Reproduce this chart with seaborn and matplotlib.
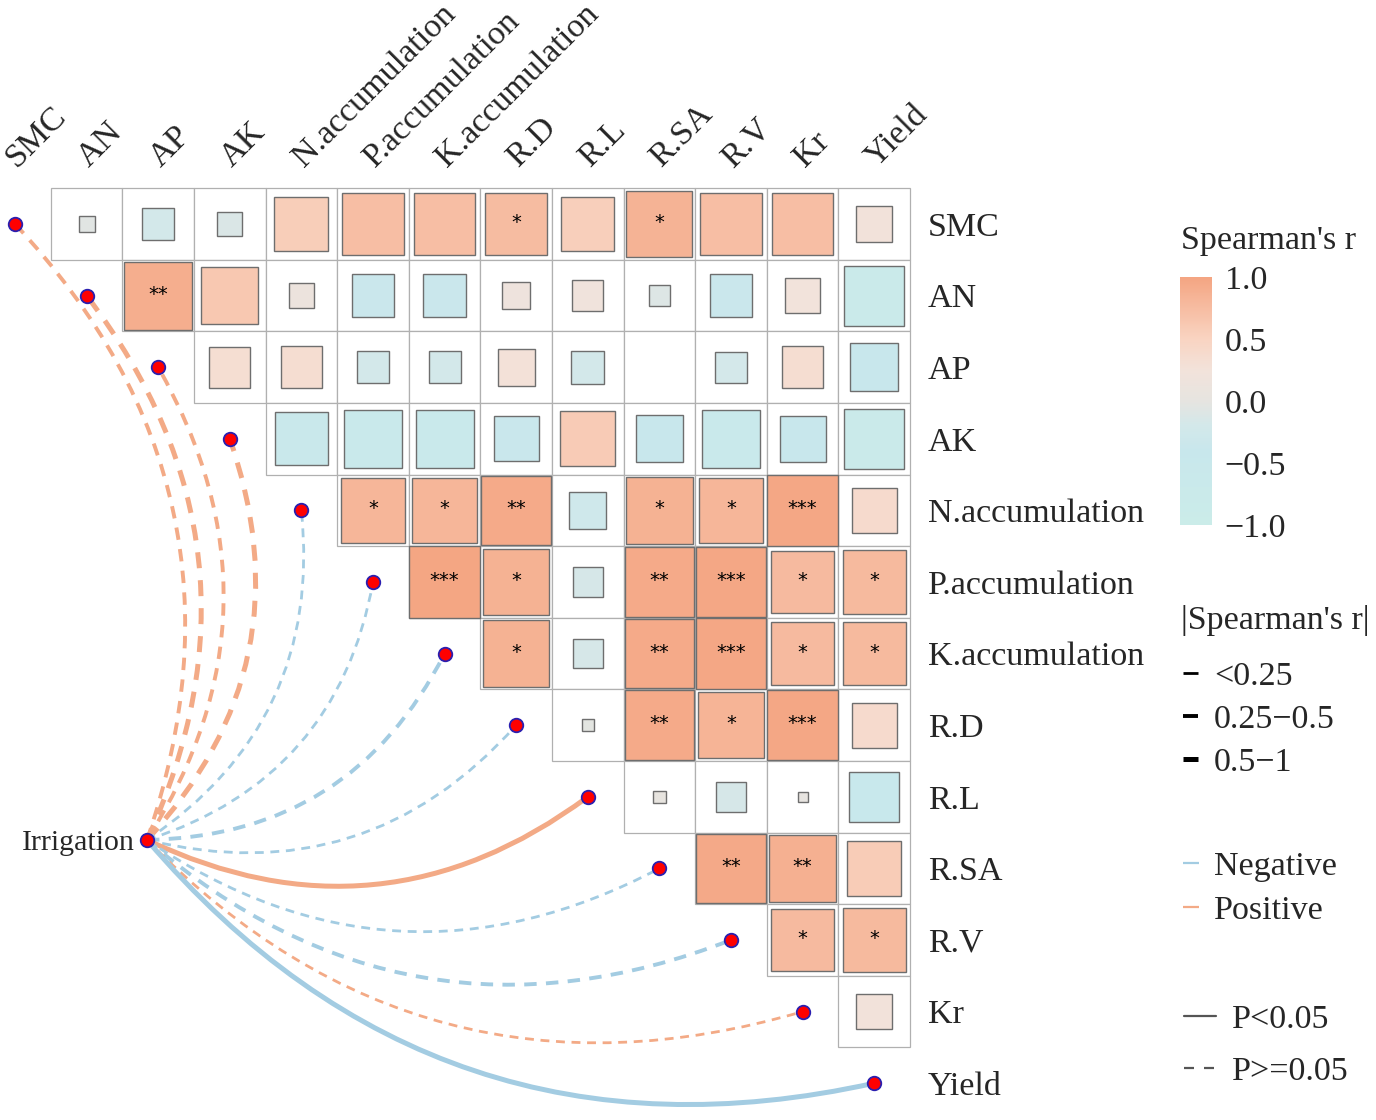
import numpy as np
import pandas as pd
import matplotlib
matplotlib.use("Agg")
import matplotlib.pyplot as plt
import seaborn as sns
from matplotlib.colors import LinearSegmentedColormap, Normalize
from matplotlib.patches import Rectangle, PathPatch
from matplotlib.path import Path
from matplotlib.cm import ScalarMappable

# ---- data ----
variables = ["SMC", "AN", "AP", "AK", "N.accumulation", "P.accumulation",
             "K.accumulation", "R.D", "R.L", "R.SA", "R.V", "Kr", "Yield"]

# upper triangle: row i holds Spearman's r against variables i+1 .. end
r_rows = [
    [-0.05, -0.20, -0.12, 0.57, 0.73, 0.73, 0.75, 0.55, 0.85, 0.73, 0.73, 0.25],
    [0.90, 0.63, 0.12, -0.36, -0.36, 0.15, 0.19, -0.09, -0.36, 0.24, -0.70],
    [0.33, 0.34, -0.20, -0.20, 0.27, -0.21, 0.00, -0.19, 0.34, -0.45],
    [-0.55, -0.66, -0.66, -0.39, 0.59, -0.43, -0.66, -0.41, -0.70],
    [0.82, 0.82, 0.94, -0.27, 0.86, 0.82, 0.97, 0.39],
    [0.99, 0.86, -0.17, 0.94, 0.97, 0.77, 0.78],
    [0.86, -0.17, 0.94, 0.97, 0.77, 0.78],
    [-0.03, 0.94, 0.84, 0.97, 0.39],
    [0.03, -0.17, 0.02, -0.49],
    [0.95, 0.88, 0.58],
    [0.77, 0.78],
    [0.25],
]
star_rows = [
    ["", "", "", "", "", "", "*", "", "*", "", "", ""],
    ["**", "", "", "", "", "", "", "", "", "", ""],
    ["", "", "", "", "", "", "", "", "", ""],
    ["", "", "", "", "", "", "", "", ""],
    ["*", "*", "**", "", "*", "*", "***", ""],
    ["***", "*", "", "**", "***", "*", "*"],
    ["*", "", "**", "***", "*", "*"],
    ["", "**", "*", "***", ""],
    ["", "", "", ""],
    ["**", "**", ""],
    ["*", "*"],
    [""],
]

# links from Irrigation to every variable
link_size = ["0.25-0.5", "0.5-1", "0.25-0.5", "0.5-1", "<0.25", "<0.25", "0.25-0.5",
             "<0.25", "0.5-1", "<0.25", "0.25-0.5", "<0.25", "0.5-1"]
link_sign = ["Positive", "Positive", "Positive", "Positive", "Negative", "Negative",
             "Negative", "Negative", "Positive", "Negative", "Negative", "Positive", "Negative"]
link_p = ["P>=0.05"] * 8 + ["P<0.05"] + ["P>=0.05"] * 3 + ["P<0.05"]

# ---- styles ----
sns.set_theme(style="white")
plt.rcParams["font.family"] = ["Liberation Serif", "DejaVu Serif"]

cmap = LinearSegmentedColormap.from_list(
    "spear", [(0.0, "#CBECE9"), (0.3, "#C8E7EC"), (0.4, "#D3E8EA"),
              (0.5, "#E6E4E0"), (0.62, "#F2E3DB"), (0.75, "#F9D4C2"), (1.0, "#F4A582")])
norm = Normalize(-1, 1)
sign_col = {"Negative": "#A3CCE2", "Positive": "#F3AA86"}
size_lw = {"<0.25": 2.0, "0.25-0.5": 2.8, "0.5-1": 3.6}
p_ls = {"P<0.05": "-", "P>=0.05": (0, (3.2, 2.4))}

W, H = 1376, 1120
CELL = 71.6          # pixels per grid unit
X0, Y0 = 15, 224     # pixel position of the SMC diagonal node

fig = plt.figure(figsize=(W / 100, H / 100), dpi=100)
ax = fig.add_axes([0, 0, 1, 1])

n = len(variables)

# cells and squares
for i, row in enumerate(r_rows):
    for k, r in enumerate(row):
        j = i + 1 + k
        ax.add_patch(Rectangle((j - 0.5, i - 0.5), 1, 1, facecolor="white",
                               edgecolor="#B0B0B0", lw=0.9, zorder=1))
        side = np.sqrt(abs(r))
        if side > 0.02:
            ax.add_patch(Rectangle((j - side / 2, i - side / 2), side, side,
                                   facecolor=cmap(norm(r)), edgecolor="#6E6E6E",
                                   lw=1.0, zorder=3))
        s = star_rows[i][k]
        if s:
            ax.text(j, i - 0.02, s, ha="center", va="center", fontsize=14,
                    family="DejaVu Sans", color="black", zorder=4)

# labels
for i, v in enumerate(variables):
    ax.text(n - 1 + 0.75, i, v, ha="left", va="center_baseline", fontsize=24.5)
    ax.text(i + 0.03, -0.78, v, rotation=45, rotation_mode="anchor",
            ha="left", va="baseline", fontsize=24.5)

# links
irr = np.array([(147 - X0) / CELL, (840 - Y0) / CELL])
rad = 0.3
for i, v in enumerate(variables):
    end = np.array([i, i], dtype=float)
    d = end - irr
    ctrl = (irr + end) / 2 + rad * np.array([-d[1], d[0]])
    path = Path([irr, ctrl, end], [Path.MOVETO, Path.CURVE3, Path.CURVE3])
    ax.add_patch(PathPatch(path, facecolor="none", edgecolor=sign_col[link_sign[i]],
                           lw=size_lw[link_size[i]], linestyle=p_ls[link_p[i]],
                           capstyle="butt", zorder=2))

ax.text(irr[0] - 0.17, irr[1], "Irrigation", ha="right", va="center_baseline", fontsize=21.5)

nodes = pd.DataFrame({"x": list(range(n)) + [irr[0]], "y": list(range(n)) + [irr[1]]})
sns.scatterplot(data=nodes, x="x", y="y", ax=ax, s=95, color="#FF0000",
                edgecolor="#2A1FB0", linewidth=1.3, zorder=5, legend=False)
ax.set_xlim(-X0 / CELL, (W - X0) / CELL)
ax.set_ylim((H - Y0) / CELL, -Y0 / CELL)
ax.axis("off")

# ---- colorbar ----
cax = fig.add_axes([1180 / W, 1 - 525 / H, 32 / W, 248 / H])
cb = fig.colorbar(ScalarMappable(norm=norm, cmap=cmap), cax=cax)
cb.outline.set_visible(False)
cb.set_ticks([1, 0.5, 0, -0.5, -1])
cb.set_ticklabels(["1.0", "0.5", "0.0", "\u22120.5", "\u22121.0"])
cax.tick_params(length=0, labelsize=24.5, pad=9)
fig.text(1181 / W, 1 - 237 / H, "Spearman's r", ha="left", va="center_baseline", fontsize=24.5)

# ---- manual legends in pixel space ----
lax = fig.add_axes([0, 0, 1, 1], facecolor="none")
lax.set_xlim(0, W)
lax.set_ylim(H, 0)
lax.axis("off")

lax.text(1181, 617, "|Spearman's r|", ha="left", va="center_baseline", fontsize=24.5)
for lab, y in zip(["<0.25", "0.25-0.5", "0.5-1"], [673, 716, 759]):
    lax.plot([1183, 1198], [y, y], color="black", lw=size_lw[lab], solid_capstyle="butt")
    lax.text(1214, y, lab.replace("-", "\u2212"), ha="left", va="center_baseline", fontsize=24.5)

for lab, y in zip(["Negative", "Positive"], [863, 907]):
    lax.plot([1183, 1199], [y, y], color=sign_col[lab], lw=1.6, solid_capstyle="butt")
    lax.text(1214, y, lab, ha="left", va="center_baseline", fontsize=24.5)

for lab, y in zip(["P<0.05", "P>=0.05"], [1016, 1068]):
    lax.plot([1184, 1216], [y, y], color="#555555", lw=1.6,
             linestyle="-" if lab == "P<0.05" else (0, (4.5, 4.5)))
    lax.text(1232, y, lab, ha="left", va="center_baseline", fontsize=24.5)

fig.savefig("out.png", dpi=100)
